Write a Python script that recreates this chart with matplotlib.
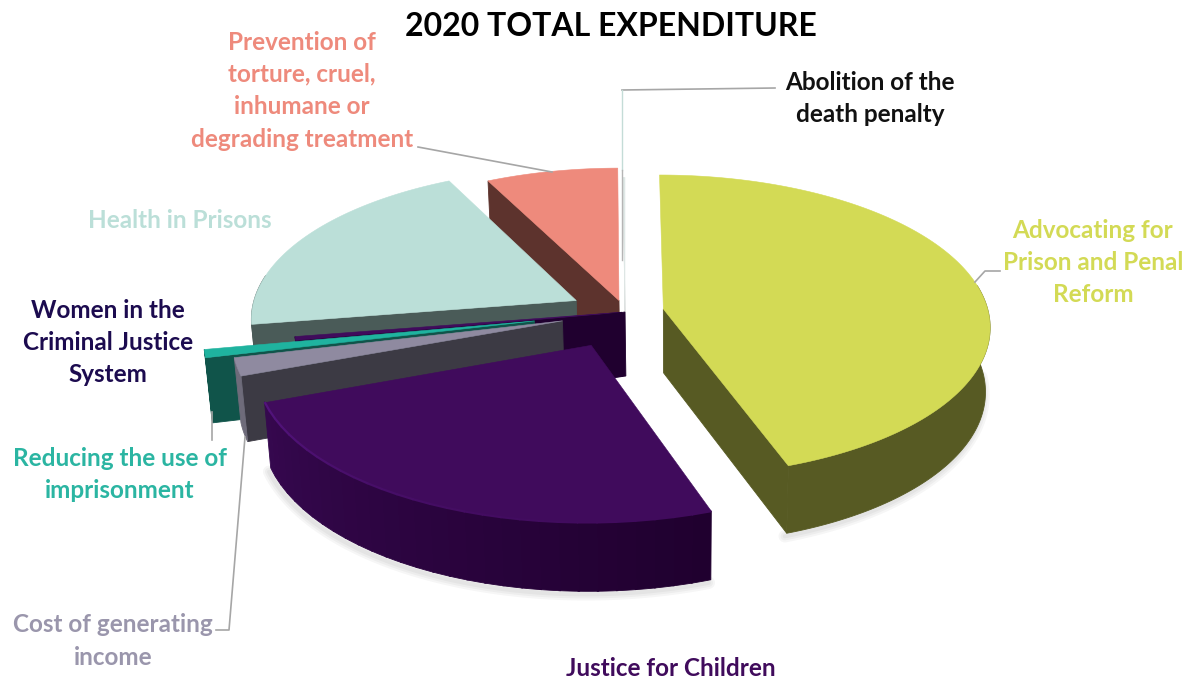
import numpy as np
import matplotlib
matplotlib.use('Agg')
import matplotlib.pyplot as plt
from matplotlib.colors import to_rgb

# share of total expenditure (percent), clockwise from 12 o'clock
categories = ['Advocating for\nPrison and Penal\nReform', 'Justice for Children',
              'Cost of generating\nincome', 'Reducing the use of\nimprisonment',
              'Women in the\nCriminal Justice\nSystem', 'Health in Prisons',
              'Prevention of\ntorture, cruel,\ninhumane or\ndegrading treatment',
              'Abolition of the\ndeath penalty']
shares = [44.6, 24.7, 1.9, 0.85, 0.4, 20.15, 7.3, 0.1]
explode = [0.12, 0.24, 0.2, 0.283, 0.01, 0.17, 0.08, 0.0]
top_colors = ['#d3da55', '#400b5c', '#8f8aa0', '#1fb39f', '#400b5c', '#bbdfd8', '#ee8a7c', '#dfe8e6']
side_colors = ['#575a23', '#20002f', '#3c3a44', '#10544a', '#20002f', '#4a5b58', '#5d332d', '#dddddd']
label_colors = ['#d3da55', '#400b5c', '#9a96ac', '#2bb5a2', '#1c0b4f', '#bbdfd8', '#ee8a7c', '#111111']

# back to front
draw_order = [6, 7, 5, 4, 3, 2, 1, 0]

# centre x, first line y
label_pos = [(1093, 230), (671, 669), (113, 625), (120, 458), (108, 310), (180, 220), (302, 42), (870, 82)]
line_step = 32.4

# view of the tilted pie
cx, cy = 625, 312
radius = 325
tilt = 0.46
persp = 9.0
depth = 64


def project(theta, r, e, mid):
    t, m = np.radians(theta), np.radians(mid)
    x = e * np.sin(m) + r * np.sin(t)
    y = -(e * np.cos(m) + r * np.cos(t))
    k = 1 / (1 - y / persp)
    return cx + radius * x * k, cy + radius * tilt * y * k, k


def extrude(px, py, k):
    return 680 + (px - 680) * 0.985, py + depth * np.sqrt(k)


def wall(ax, path, color, z):
    # vertical band hanging from a path on the top surface
    low = [extrude(*p) for p in path]
    xs = [p[0] for p in path] + [p[0] for p in low[::-1]]
    ys = [p[1] for p in path] + [p[1] for p in low[::-1]]
    ax.fill(xs, ys, color=color, lw=0.6, zorder=z)


def mix(c1, c2, f):
    c1, c2 = np.array(to_rgb(c1)), np.array(to_rgb(c2))
    return tuple(c1 + (c2 - c1) * f)


fig = plt.figure(figsize=(11.9, 6.8), dpi=100)
ax = fig.add_axes([0, 0, 1, 1])
ax.set_xlim(0, 1190)
ax.set_ylim(680, 0)
ax.axis('off')

edges = np.concatenate([[0], np.cumsum(shares)]) * 360 / sum(shares)

z = 2
for i in draw_order:
    start, end = edges[i], edges[i + 1]
    mid = (start + end) / 2
    e = explode[i]
    tip = project(0, 0, e, mid)

    # solid core behind the children slice, in line with the income slice edge
    if i == 2:
        wall(ax, [tip, project(0, 0, 0, 0)], side_colors[1], z)
        z += 1

    # soft shadow below the two large slices
    if i in (0, 1):
        low = [extrude(*project(a, 1, e, mid)) for a in np.linspace(start, end, 120)]
        low = [p for p, a in zip(low, np.linspace(start, end, 120)) if 90 < a < 260]
        for w in (9, 6, 3):
            ax.plot([p[0] - 2 for p in low], [p[1] + 3 for p in low], color='black',
                    alpha=0.035, lw=w, solid_capstyle='round', zorder=1)

    # radial faces, only when they turn towards the viewer
    if np.sin(np.radians(start)) < 0:
        wall(ax, [tip, project(start, 1, e, mid)], side_colors[i], z)
    if np.sin(np.radians(end)) > 0:
        wall(ax, [tip, project(end, 1, e, mid)], side_colors[i], z)
    z += 1

    # outer rim facing the viewer
    front = [a for a in np.linspace(start, end, 160) if 80 < a < 280]
    if i == 1:
        # children slice gets lighter to the left, cut in strips
        bands = np.linspace(start, end, 31)
        for a0, a1 in zip(bands[:-1], bands[1:]):
            f = (a0 - start) / (end - start)
            wall(ax, [project(a, 1, e, mid) for a in np.linspace(a0, a1 + 0.3, 5)],
                 mix('#20002f', '#36084f', f), z)
    elif len(front) > 1:
        c = '#6e6b7a' if i == 2 else side_colors[i]
        wall(ax, [project(a, 1, e, mid) for a in front], c, z)
    z += 1

    rim = [project(a, 1, e, mid) for a in np.linspace(start, end, 160)]
    xs = [tip[0]] + [p[0] for p in rim]
    ys = [tip[1]] + [p[1] for p in rim]
    ax.fill(xs, ys, color=top_colors[i], lw=0.4, zorder=z)
    z += 1

    # light bevel along the curved edge of the children slice
    if i == 1:
        bands = np.linspace(start, end, 31)
        for a0, a1 in zip(bands[:-1], bands[1:]):
            f = (a0 - start) / (end - start)
            p0, p1 = project(a0, 1, e, mid), project(a1 + 0.2, 1, e, mid)
            ax.plot([p0[0], p1[0]], [p0[1], p1[1]], color=mix('#400b5c', '#54147e', f ** 2),
                    lw=1.6, solid_capstyle='butt', zorder=z)
        z += 1

# leader lines
leader = '#a6a6a6'
ax.plot([418, 552], [147, 172], color=leader, lw=1.2, zorder=z)
ax.plot([775, 622], [88, 90], color=leader, lw=1.2, zorder=z)
ax.plot([622, 622], [90, 170], color='#c4dcd7', lw=1.0, zorder=z)
ax.plot([622, 622], [170, 260], color='#b5b5b5', lw=1.0, zorder=z)
ax.plot([1000, 985, 975], [271, 271, 282], color=leader, lw=1.2, zorder=z)
ax.plot([212, 212], [412, 440], color=leader, lw=1.2, zorder=z)
ax.plot([216, 229, 245], [630, 630, 437], color=leader, lw=1.2, zorder=z)

for i, name in enumerate(categories):
    x, y = label_pos[i]
    for j, line in enumerate(name.split('\n')):
        ax.text(x, y + j * line_step, line, color=label_colors[i], ha='center', va='center',
                fontsize=17.5, fontweight='bold', family='Lato', zorder=z + 1)

ax.text(611, 26, '2020 TOTAL EXPENDITURE', color='black', ha='center', va='center',
        fontsize=23, fontweight='bold', family='Lato', zorder=z + 1)

fig.savefig('out.png', dpi=100)
